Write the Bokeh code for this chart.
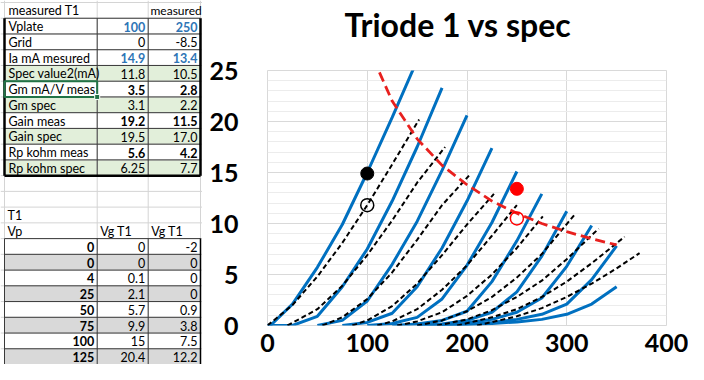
from bokeh.plotting import figure
from bokeh.layouts import row, column
from bokeh.models import Range1d, SingleIntervalTicker, ColumnDataSource
from bokeh.core.properties import value
from bokeh.embed import file_html
from bokeh.resources import INLINE

# ------------------------------------------------------------------ chart data
TITLE = "Triode 1 vs spec"

# measured plate curves (blue, solid): Vp [V] -> Ia [mA]
meas_vp = [
    [0, 4, 25, 50, 75, 100, 125, 150],
    [0, 25, 50, 75, 100, 125, 150, 175],
    [50, 75, 100, 125, 150, 175, 200],
    [75, 100, 125, 150, 175, 200, 225],
    [100, 125, 150, 175, 200, 225, 250],
    [125, 150, 175, 200, 225, 250, 275],
    [150, 175, 200, 225, 250, 275, 300],
    [150, 175, 200, 225, 250, 275, 300, 325],
    [175, 200, 225, 250, 275, 300, 325, 350],
    [175, 200, 225, 250, 275, 300, 325, 350],
]
meas_ia = [
    [0, 0.1, 2.1, 5.7, 9.9, 15.0, 20.4, 26.0],
    [0, 0, 0.9, 3.8, 7.5, 12.2, 17.5, 23.3],
    [0, 0.5, 2.4, 6.0, 10.2, 15.2, 20.6],
    [0, 0.3, 1.2, 3.8, 7.6, 12.2, 17.4],
    [0, 0.2, 0.8, 2.6, 5.9, 10.1, 15.1],
    [0, 0.15, 0.5, 1.4, 4.3, 8.3, 12.9],
    [0, 0.15, 0.5, 1.3, 3.3, 6.8, 11.2],
    [0, 0.1, 0.3, 0.6, 1.3, 2.7, 5.8, 9.8],
    [0, 0.15, 0.3, 0.6, 1.1, 2.1, 4.5, 7.8],
    [0, 0.1, 0.2, 0.35, 0.6, 1.1, 2.1, 3.8],
]

# data-sheet plate curves (black, dashed)
spec_vp = [
    [0, 25, 50, 75, 100, 125, 152],
    [20, 50, 75, 100, 125, 150, 178],
    [55, 75, 100, 125, 150, 175, 202],
    [85, 100, 125, 150, 175, 200, 227],
    [110, 125, 150, 175, 200, 225, 250],
    [130, 150, 175, 200, 225, 250, 276],
    [150, 175, 200, 225, 250, 275, 309],
    [170, 200, 225, 250, 275, 300, 332],
    [190, 225, 250, 275, 300, 325, 358],
    [210, 250, 275, 300, 325, 350, 373],
]
spec_ia = [
    [0, 2.0, 4.8, 8.1, 11.8, 15.8, 20.2],
    [0, 1.6, 3.9, 6.9, 10.3, 14.0, 17.5],
    [0, 0.8, 2.6, 5.2, 8.4, 11.8, 14.7],
    [0, 0.5, 1.9, 4.1, 6.9, 9.9, 12.9],
    [0, 0.4, 1.6, 3.5, 5.9, 8.8, 11.8],
    [0, 0.4, 1.3, 2.9, 5.0, 7.6, 10.7],
    [0, 0.5, 1.4, 2.8, 4.7, 7.0, 11.0],
    [0, 0.6, 1.5, 2.8, 4.4, 6.5, 9.5],
    [0, 0.8, 1.6, 2.8, 4.3, 6.1, 8.7],
    [0, 0.9, 1.7, 2.8, 4.1, 5.6, 7.1],
]

# max plate dissipation curve (red, dashed)
diss_vp = [100, 125, 150, 175, 200, 225, 250, 275, 300, 325, 350]
diss_ia = [27.5, 22.0, 18.3, 15.7, 13.8, 12.2, 11.0, 10.0, 9.2, 8.5, 7.9]

# operating points: measured (filled) and spec (open)
op_vp = [100, 250]
op_ia_meas = [14.9, 13.4]
op_ia_spec = [11.8, 10.5]
op_colors = ["black", "#FF0000"]

# ------------------------------------------------------------------ sheet data
top_labels = ["measured T1", "Vplate", "Grid", "Ia mA mesured", "Spec value2(mA)",
              "Gm mA/V meas", "Gm spec", "Gain meas", "Gain spec",
              "Rp kohm meas", "Rp kohm spec"]
top_col_b = ["", "100", "0", "14.9", "11.8", "3.5", "3.1", "19.2", "19.5", "5.6", "6.25"]
top_col_c = ["measured", "250", "-8.5", "13.4", "10.5", "2.8", "2.2", "11.5", "17.0", "4.2", "7.7"]
top_kind = ["head", "blue", "norm", "blue", "norm", "bold", "norm", "bold", "norm", "bold", "norm"]
top_green = [False, False, False, False, True, False, True, False, True, False, True]

bt_title = "T1"
bt_head = ["Vp", "Vg T1", "Vg T1"]
bt_vp = ["0", "0", "4", "25", "50", "75", "100", "125"]
bt_b = ["0", "0", "0.1", "2.1", "5.7", "9.9", "15", "20.4"]
bt_c = ["-2", "0", "0", "0", "0.9", "3.8", "7.5", "12.2"]

# ------------------------------------------------------------------ sheet figure
W_SHEET, H = 202, 364
R0, RH = 2.0, 15.74
COLS = [4.0, 96.7, 147.7, 200.0]
SHEET_FONT = "Lato"
NROWS = 23


def ry(k):
    return R0 + RH * k


def rc(k):
    return R0 + RH * (k + 0.5) + 0.5


sheet = figure(width=W_SHEET, height=H, x_range=Range1d(0, W_SHEET), y_range=Range1d(H, 0),
               output_backend="svg", toolbar_location=None,
               x_axis_location=None, y_axis_location=None, min_border=0)
sheet.frame_align = False
sheet.grid.visible = False
sheet.outline_line_color = None
sheet.background_fill_color = "white"
sheet.border_fill_color = "white"

# cell fills
gk = [k for k, g in enumerate(top_green) if g]
sheet.quad(left=[COLS[0]] * len(gk), right=[COLS[3]] * len(gk),
           top=[ry(k) for k in gk], bottom=[ry(k + 1) for k in gk],
           fill_color="#E2EFDA", line_color=None)
grey_rows = [15 + i for i in range(len(bt_vp)) if i % 2 == 1]
sheet.quad(left=[COLS[0]] * len(grey_rows), right=[COLS[3]] * len(grey_rows),
           top=[ry(k) for k in grey_rows], bottom=[ry(k + 1) for k in grey_rows],
           fill_color="#D9D9D9", line_color=None)

# light grid
hk = list(range(0, NROWS + 1))
sheet.segment(x0=[0] * len(hk), x1=[W_SHEET] * len(hk), y0=[ry(k) for k in hk],
              y1=[ry(k) for k in hk], line_color="#D4D4D4", line_width=1)
sheet.segment(x0=COLS, x1=COLS, y0=[0] * 4, y1=[H] * 4, line_color="#D4D4D4", line_width=1)

# dark borders, top table
hk = list(range(1, 11))
sheet.segment(x0=[COLS[0]] * len(hk), x1=[COLS[3]] * len(hk), y0=[ry(k) for k in hk],
              y1=[ry(k) for k in hk], line_color="#3A3A3A", line_width=1)
sheet.segment(x0=COLS[1:3], x1=COLS[1:3], y0=[ry(1)] * 2, y1=[ry(11)] * 2,
              line_color="#3A3A3A", line_width=1)
sheet.segment(x0=[COLS[0], COLS[3], COLS[0]], x1=[COLS[0], COLS[3], COLS[3]],
              y0=[ry(1), ry(1), ry(11)], y1=[ry(11), ry(11), ry(11)],
              line_color="black", line_width=2.5)

# dark borders, bottom table
hk = list(range(15, NROWS + 1))
sheet.segment(x0=[COLS[0]] * len(hk), x1=[COLS[3]] * len(hk), y0=[ry(k) for k in hk],
              y1=[ry(k) for k in hk], line_color="#3A3A3A", line_width=1)
sheet.segment(x0=COLS, x1=COLS, y0=[ry(15)] * 4, y1=[H] * 4, line_color="#3A3A3A", line_width=1)
sheet.segment(x0=[COLS[3]], x1=[COLS[3]], y0=[ry(15)], y1=[H], line_color="black", line_width=1.5)

# selected cell
sheet.quad(left=[COLS[0]], right=[COLS[1]], top=[ry(5)], bottom=[ry(6)],
           fill_color=None, line_color="#217346", line_width=2)
sheet.scatter([COLS[1]], [ry(6)], marker="square", size=5, fill_color="#217346",
              line_color="white", line_width=1)

# texts
groups = {}


def add_text(x, y, t, align, style, color, size="12.5px"):
    key = (align, style, color, size)
    g = groups.setdefault(key, {"x": [], "y": [], "t": []})
    g["x"].append(x)
    g["y"].append(y)
    g["t"].append(t)


for k, lab in enumerate(top_labels):
    add_text(COLS[0] + 4, rc(k), lab, "left", "normal", "black")
for k in range(len(top_labels)):
    kind = top_kind[k]
    if kind == "head":
        add_text(COLS[2] + 2.3, rc(k), top_col_c[k], "left", "normal", "black", "12px")
        continue
    style = "bold" if kind in ("blue", "bold") else "normal"
    color = "#2E75B6" if kind == "blue" else "black"
    add_text(COLS[2] - 3, rc(k), top_col_b[k], "right", style, color)
    add_text(COLS[3] - 3, rc(k), top_col_c[k], "right", style, color)

add_text(COLS[0] + 3, rc(13), bt_title, "left", "normal", "black")
add_text(COLS[0] + 3, rc(14), bt_head[0], "left", "normal", "black")
add_text(COLS[1] + 3, rc(14), bt_head[1], "left", "normal", "black")
add_text(COLS[2] + 3, rc(14), bt_head[2], "left", "normal", "black")
for i in range(len(bt_vp)):
    k = 15 + i
    add_text(COLS[1] - 3, rc(k), bt_vp[i], "right", "bold", "black")
    add_text(COLS[2] - 3, rc(k), bt_b[i], "right", "normal", "black")
    add_text(COLS[3] - 3, rc(k), bt_c[i], "right", "normal", "black")

for (align, style, color, size), g in groups.items():
    sheet.text(x=g["x"], y=g["y"], text=g["t"], text_align=align, text_baseline="middle",
               text_font=value(SHEET_FONT), text_font_size=size,
               text_font_style=style, text_color=color)

# ------------------------------------------------------------------ title strip
W_CHART = 688 - W_SHEET
H_TITLE = 46
tfig = figure(width=W_CHART, height=H_TITLE, x_range=Range1d(W_SHEET, 688),
              y_range=Range1d(H_TITLE, 0), output_backend="svg", toolbar_location=None,
              x_axis_location=None, y_axis_location=None, min_border=0)
tfig.frame_align = False
tfig.grid.visible = False
tfig.outline_line_color = None
tfig.background_fill_color = "white"
tfig.border_fill_color = "white"
tfig.text(x=[457.5], y=[24.0], text=[TITLE], text_align="center", text_baseline="middle",
          text_font=value("Lato"), text_font_size="32px", text_font_style="bold",
          text_color="black")

# ------------------------------------------------------------------ chart figure
p = figure(width=W_CHART, height=H - H_TITLE, x_range=Range1d(0, 400), y_range=Range1d(0, 25),
           output_backend="svg", toolbar_location=None,
           min_border_left=65, min_border_right=22, min_border_top=70 - H_TITLE,
           min_border_bottom=39)
p.frame_align = False
p.background_fill_color = "white"
p.border_fill_color = "white"
p.outline_line_color = "#D9D9D9"

p.xaxis.ticker = SingleIntervalTicker(interval=100, num_minor_ticks=0)
p.yaxis.ticker = SingleIntervalTicker(interval=5, num_minor_ticks=5)
for ax in p.axis:
    ax.axis_line_color = None
    ax.major_tick_line_color = None
    ax.minor_tick_line_color = None
    ax.major_tick_in = 0
    ax.major_tick_out = 0
    ax.minor_tick_in = 0
    ax.minor_tick_out = 0
    ax.major_label_text_font = "Lato"
    ax.major_label_text_font_size = "25px"
    ax.major_label_text_font_style = "bold"
    ax.major_label_text_color = "black"
p.yaxis.major_label_standoff = 29
p.xaxis.major_label_standoff = 8

p.xgrid.grid_line_color = "#D9D9D9"
p.ygrid.grid_line_color = "#D9D9D9"
p.ygrid.minor_grid_line_color = "#ECECEC"

p.multi_line(xs=meas_vp, ys=meas_ia, line_color="#0070C0", line_width=3)
p.multi_line(xs=spec_vp, ys=spec_ia, line_color="black", line_width=2, line_dash="5 3")
p.line(diss_vp, diss_ia, line_color="#E8201E", line_width=2.8, line_dash="10 5")

op_src = ColumnDataSource(dict(x=op_vp, ym=op_ia_meas, ys=op_ia_spec, c=op_colors))
p.scatter("x", "ym", source=op_src, size=13, fill_color="c", line_color="c")
p.scatter("x", "ys", source=op_src, size=13, fill_color=None, line_color="c", line_width=1.5)

layout = row(sheet, column(tfig, p))
open("out.html", "w").write(file_html(layout, INLINE))
